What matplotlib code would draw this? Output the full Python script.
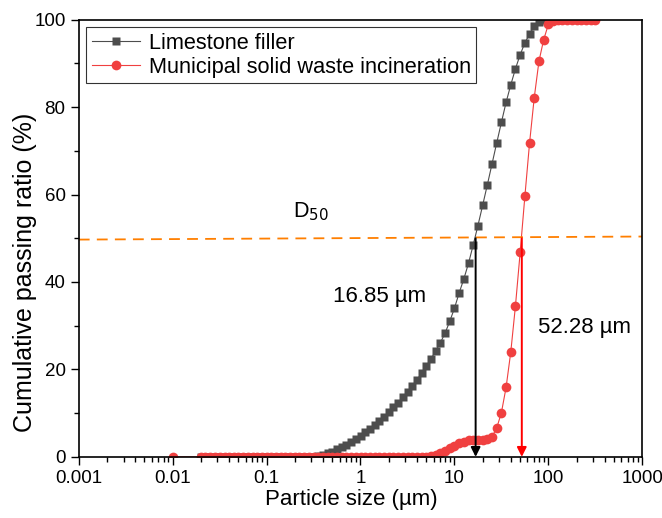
import matplotlib.pyplot as plt
import numpy as np
from matplotlib.ticker import LogLocator, MultipleLocator, FixedFormatter, FixedLocator

plt.rcParams['font.family'] = ['Liberation Sans', 'DejaVu Sans']

# size classes (um)
sizes = [0.020, 0.022, 0.025, 0.028, 0.032, 0.036, 0.040, 0.045, 0.050, 0.056,
         0.063, 0.071, 0.080, 0.089, 0.100, 0.112, 0.126, 0.142, 0.159, 0.178,
         0.200, 0.224, 0.252, 0.283, 0.317, 0.356, 0.399, 0.448, 0.502, 0.564,
         0.632, 0.710, 0.796, 0.893, 1.002, 1.125, 1.262, 1.416, 1.589, 1.783,
         2.000, 2.244, 2.518, 2.825, 3.170, 3.557, 3.991, 4.477, 5.024, 5.637,
         6.325, 7.096, 7.962, 8.934, 10.024, 11.247, 12.619, 14.159, 15.887, 17.825,
         20.000, 22.440, 25.179, 28.251, 31.698, 35.566, 39.905, 44.774, 50.238, 56.368,
         63.246, 70.963, 79.621, 89.337, 100.237, 112.468, 126.191, 141.589, 158.866, 178.250,
         200.000, 224.404, 251.785, 282.508, 316.979]

limestone = [0, 0, 0, 0, 0, 0, 0, 0, 0, 0,
             0, 0, 0, 0, 0, 0, 0, 0, 0, 0,
             0, 0, 0, 0, 0.05, 0.2, 0.45, 0.8, 1.2, 1.7,
             2.2, 2.8, 3.4, 4.1, 4.8, 5.6, 6.4, 7.3, 8.2, 9.2,
             10.2, 11.3, 12.4, 13.6, 14.9, 16.2, 17.6, 19.1, 20.7, 22.4,
             24.2, 26.1, 28.3, 31.0, 34.0, 37.5, 40.7, 44.3, 48.5, 52.9,
             57.5, 62.2, 67.0, 71.8, 76.5, 81.1, 85.1, 88.8, 92.0, 94.7,
             96.7, 98.5, 99.5, 100, 100]

mswi = [0, 0, 0, 0, 0, 0, 0, 0, 0, 0,
        0, 0, 0, 0, 0, 0, 0, 0, 0, 0,
        0, 0, 0, 0, 0, 0, 0, 0, 0, 0,
        0, 0, 0, 0, 0, 0, 0, 0, 0, 0,
        0, 0, 0, 0, 0, 0, 0, 0, 0.05, 0.2,
        0.5, 0.9, 1.4, 2.0, 2.6, 3.1, 3.5, 3.8, 3.9, 3.9,
        3.9, 4.0, 4.6, 6.6, 10.1, 15.9, 24.0, 34.6, 46.8, 59.6,
        71.8, 82.2, 90.5, 95.4, 98.9, 99.8, 100, 100, 100, 100,
        100, 100, 100, 100, 100]

# lone first reading of the MSWI curve
mswi_first_x = [0.01]
mswi_first_y = [0]

d50_limestone = 16.85
d50_mswi = 52.28
d50_line_x = [0.001, 1000]
d50_line_y = [49.7, 50.4]

gray = '#4d4d4d'
red = '#f04040'

fig = plt.figure(figsize=(6.62, 5.18), dpi=100)
ax = fig.add_axes([0.119, 0.118, 0.851, 0.844])

ax.plot(sizes[:len(limestone)], limestone, color=gray, lw=0.8, marker='s',
        ms=6.0, mec='none', label='Limestone filler')
ax.plot(mswi_first_x + sizes, mswi_first_y + mswi, color=red, lw=0.8, marker='o',
        ms=7.0, mec='none', label='Municipal solid waste incineration')

# D50 guide line
ax.plot(d50_line_x, d50_line_y, color='#ff7f00', lw=1.3, ls=(0, (6, 4)))

# arrows at D50
ax.annotate('', xy=(d50_limestone, 0), xytext=(d50_limestone, 50),
            arrowprops=dict(arrowstyle='-|>', color='black', lw=1.4,
                            mutation_scale=14, shrinkA=0, shrinkB=0))
ax.annotate('', xy=(d50_mswi, 0), xytext=(d50_mswi, 50),
            arrowprops=dict(arrowstyle='-|>', color='red', lw=1.4,
                            mutation_scale=14, shrinkA=0, shrinkB=0))

ax.text(0.19, 56, 'D$_{50}$', fontsize=15.5, ha='left', va='center')
ax.text(0.51, 36.6, '16.85 µm', fontsize=16, ha='left', va='center')
ax.text(78, 29.7, '52.28 µm', fontsize=16, ha='left', va='center')

ax.set_xscale('log')
ax.set_xlim(0.001, 1000)
ax.set_ylim(0, 100)
ax.xaxis.set_major_locator(FixedLocator([0.001, 0.01, 0.1, 1, 10, 100, 1000]))
ax.xaxis.set_major_formatter(FixedFormatter(['0.001', '0.01', '0.1', '1', '10', '100', '1000']))
ax.xaxis.set_minor_locator(LogLocator(base=10, subs=np.arange(2, 10), numticks=20))
ax.yaxis.set_major_locator(MultipleLocator(20))
ax.yaxis.set_minor_locator(MultipleLocator(10))
ax.tick_params(which='major', direction='out', length=6, width=1, labelsize=13.5)
ax.tick_params(which='minor', direction='out', length=3.5, width=1)
for s in ax.spines.values():
    s.set_linewidth(1.2)

ax.set_xlabel('Particle size (µm)', fontsize=16)
ax.set_ylabel('Cumulative passing ratio (%)', fontsize=18)
ax.xaxis.set_label_coords(0.483, -0.074)
ax.yaxis.set_label_coords(-0.075, 0.423)

leg = ax.legend(loc='upper left', fontsize=15.7, frameon=True, fancybox=False,
                edgecolor='black', handlelength=2.2, borderpad=0.25,
                labelspacing=0.15, handletextpad=0.4, borderaxespad=0.35)
leg.get_frame().set_linewidth(0.8)

fig.savefig('out.png', dpi=100)
